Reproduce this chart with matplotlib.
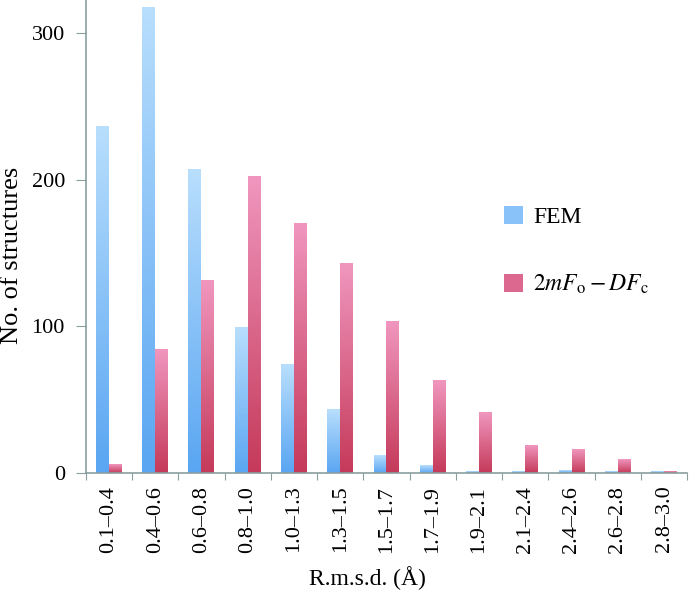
import numpy as np
import matplotlib
matplotlib.use("Agg")
import matplotlib.pyplot as plt
from matplotlib.patches import Patch
from matplotlib.colors import LinearSegmentedColormap

# dane
categories = ["0.1–0.4", "0.4–0.6", "0.6–0.8", "0.8–1.0", "1.0–1.3", "1.3–1.5", "1.5–1.7",
              "1.7–1.9", "1.9–2.1", "2.1–2.4", "2.4–2.6", "2.6–2.8", "2.8–3.0"]
fem = [236, 317, 207, 99, 74, 43, 12, 5, 1, 1, 2, 1, 1]
map_2fo = [6, 84, 131, 202, 170, 143, 103, 63, 41, 19, 16, 9, 1]
series_labels = ["FEM", r"$2mF_{\mathrm{o}} - DF_{\mathrm{c}}$"]

plt.rcParams['font.family'] = ['Liberation Serif', 'DejaVu Serif']
plt.rcParams['mathtext.fontset'] = 'stix'

blue_cm = LinearSegmentedColormap.from_list("b", ["#5aa6f2", "#b8defd"])
pink_cm = LinearSegmentedColormap.from_list("p", ["#c53a5a", "#f096be"])

fig = plt.figure(figsize=(6.92, 6.02), dpi=100)
ax = fig.add_axes([0.124, 0.214, 0.869, 0.786])

grad = np.linspace(0, 1, 100).reshape(-1, 1)
w = 0.28
x = np.arange(len(categories))


def gradient_bar(xc, h, cmap):
    # pasek z gradientem - jasny u gory, ciemny u dolu
    if h <= 0:
        return
    ax.imshow(grad, cmap=cmap, origin='lower', aspect='auto',
              extent=(xc - w / 2, xc + w / 2, 0, h), interpolation='bilinear', zorder=2)


for i in range(len(categories)):
    gradient_bar(x[i] + 0.5 - w / 2, fem[i], blue_cm)
    gradient_bar(x[i] + 0.5 + w / 2, map_2fo[i], pink_cm)

ax.set_xlim(0, len(categories))
ax.set_ylim(0, 322.5)

ax.set_xticks(np.arange(len(categories) + 1))
ax.set_xticklabels([])
ax.set_xticks(x + 0.5, minor=True)
ax.set_xticklabels(categories, minor=True, rotation=90, fontsize=16)
ax.tick_params(axis='x', which='minor', length=0, pad=9)
ax.tick_params(axis='x', which='major', length=5, direction='out', color='#8a9e9e')
ax.set_yticks([0, 100, 200, 300])
ax.tick_params(axis='y', length=7, direction='out', color='#8a9e9e', labelsize=16, pad=8)

for s in ['top', 'right']:
    ax.spines[s].set_visible(False)
for s in ['left', 'bottom']:
    ax.spines[s].set_color('#8a9e9e')
    ax.spines[s].set_linewidth(1.2)

ax.set_ylabel("No. of structures", fontsize=19)
ax.yaxis.set_label_coords(-0.105, 0.46)
ax.set_xlabel("R.m.s.d. (Å)", fontsize=17)
ax.xaxis.set_label_coords(0.468, -0.197)
ax.xaxis.label.set_va('top')

handles = [Patch(facecolor="#88c2f8", edgecolor='none'), Patch(facecolor="#dc6890", edgecolor='none')]
ax.legend(handles, series_labels, loc='upper left', bbox_to_anchor=(0.66, 0.61), frameon=False,
          fontsize=17, labelspacing=1.9, handlelength=0.8, handleheight=0.8, handletextpad=0.45)

fig.savefig("out.png", dpi=100)
